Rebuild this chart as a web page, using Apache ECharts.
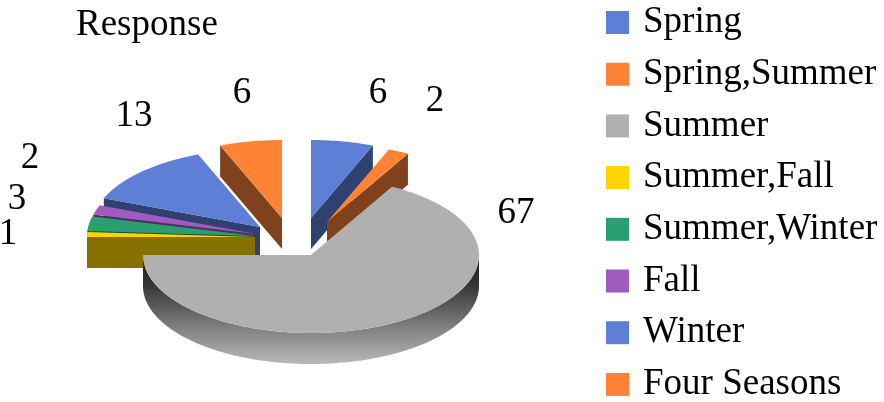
<!DOCTYPE html>
<html>
<head>
<meta charset="utf-8">
<style>html,body{margin:0;padding:0;background:#fff}#c{width:884px;height:402px}</style>
<script src="https://cdn.jsdelivr.net/npm/echarts@6/dist/echarts.min.js"></script>
</head>
<body>
<div id="c"></div>
<script>
const categories = ["Spring","Spring,Summer","Summer","Summer,Fall","Summer,Winter","Fall","Winter","Four Seasons"];
const values = [6,2,67,1,3,2,13,6];
const chartTitle = "Response";

// styles and layout, separate from the data
const topColors  = ["#5F7FD6","#FF8235","#B0B0B0","#FFD400","#2A9F71","#9F5CBE","#5F7FD6","#FF8235"];
const wallColors = ["#2F4170","#80421C","#222222","#857000","#14503A","#50305F","#2F4170","#80421C"];
const paintOrder = [1,2,7,6,5,4,3,0];            // 3D stacking rank, back (0) to front (7)
const explodeX   = [0,16,0,-56,-56,-55,-51,-29]; // exploded offset of each wedge's apex
const explodeY   = [-37,-33,0,-18,-19,-21,-28,-37];
const labelX = [378,435,516,8,17,30,134,242];
const labelY = [93,101,213,234,199,158,116,93];
const CX = 311, CY = 255, RX = 168, RY = 78, DEPTH = 31;
const FONT = '"Liberation Serif","Times New Roman",serif';

const total = values.reduce((a,b)=>a+b,0);
const starts = []; values.reduce((acc,v,i)=>{starts[i]=acc;return acc+v;},0);
const toAngle = v => v/total*2*Math.PI;

function rim(cx,cy,t,dy){ return [cx+RX*Math.sin(t), cy-RY*Math.cos(t)+(dy||0)]; }
function arc(cx,cy,a,b,dy){
  const n = Math.max(2,Math.ceil((b-a)/0.01)), pts=[];
  for(let i=0;i<=n;i++) pts.push(rim(cx,cy,a+(b-a)*i/n,dy));
  return pts;
}

function makeRender(i){
  return function(params, api){
    const value = api.value(0);
    const a = toAngle(starts[i]), b = a + toAngle(value);
    const cx = CX+explodeX[i], cy = CY+explodeY[i];
    const z = paintOrder[i]*10;
    const children = [];
    const mid = (a+b)/2;
    if (i === 2) {
      // the large wedge shows its curved outer wall
      const front = arc(cx,cy,Math.max(a,Math.PI/2),Math.min(b,1.5*Math.PI));
      const lower = front.map(p=>[p[0],p[1]+DEPTH]).reverse();
      children.push({type:'polygon',z2:z,shape:{points:front.concat(lower)},style:{
        fill:new echarts.graphic.LinearGradient(0,0,0,1,[
          {offset:0,color:'#161616'},{offset:0.3,color:'#3a3a3a'},{offset:0.65,color:'#7d7d7d'},{offset:1,color:'#b8b8b8'}])}});
    } else {
      // flat cut face toward the viewer
      const t = mid < Math.PI ? b : a;
      const p = rim(cx,cy,t);
      children.push({type:'polygon',z2:z,shape:{points:[[cx,cy],p,[p[0],p[1]+DEPTH],[cx,cy+DEPTH]]},style:{fill:wallColors[i]}});
    }
    children.push({type:'polygon',z2:z+1,shape:{points:[[cx,cy]].concat(arc(cx,cy,a,b))},style:{fill:topColors[i]}});
    children.push({type:'text',z2:200,style:{x:labelX[i],y:labelY[i],text:String(value),fill:'#000',
      font:'37px '+FONT,align:'center',verticalAlign:'middle'}});
    return {type:'group',children};
  };
}

const chart = echarts.init(document.getElementById('c'),null,{renderer:'canvas'});
chart.setOption({
  animation:false,
  backgroundColor:'#fff',
  title:{text:chartTitle,left:71,top:2,textStyle:{fontFamily:FONT,fontWeight:'normal',fontSize:37,color:'#000'}},
  legend:{
    orient:'vertical',left:606,top:4,padding:0,height:440,
    itemWidth:23,itemHeight:23,itemGap:14.7,
    icon:'rect',selectedMode:false,
    data:categories,
    textStyle:{fontFamily:FONT,fontSize:37,color:'#000',padding:[0,0,0,9]}
  },
  series:categories.map((name,i)=>({
    name,type:'custom',coordinateSystem:'none',
    itemStyle:{color:topColors[i]},
    data:[[values[i]]],
    renderItem:makeRender(i),
    silent:true
  }))
});
</script>
</body>
</html>
